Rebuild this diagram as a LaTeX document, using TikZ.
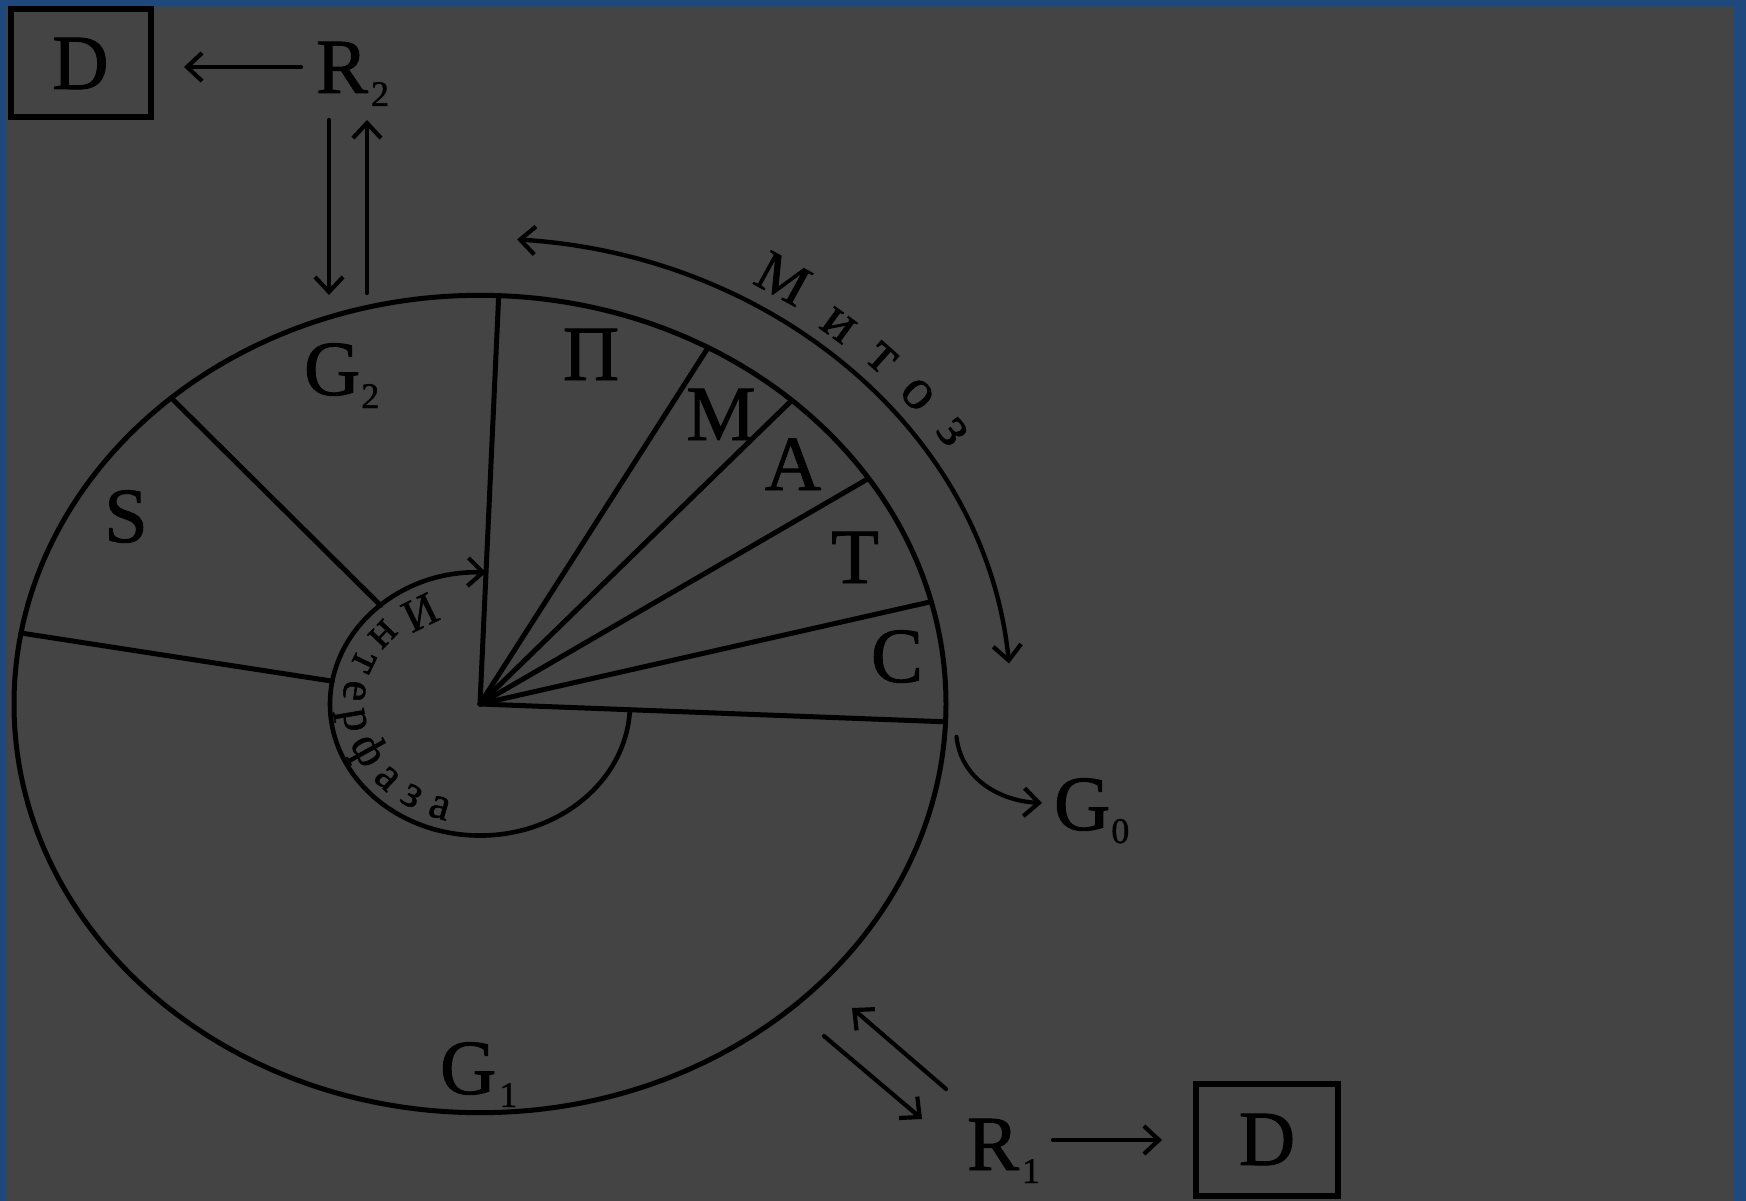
\documentclass[tikz,border=0pt]{standalone}
\usepackage{fontspec}
\setmainfont{Liberation Serif}
\newfontfamily\heavy{Liberation Serif}[FakeBold=1.2]
\usetikzlibrary{arrows.meta,calc}
\definecolor{bgblue}{RGB}{31,73,125}
\definecolor{bggray}{RGB}{68,68,68}
\newcommand{\subdig}[1]{\raisebox{-13pt}{\fontsize{36}{36}\selectfont #1}}
\begin{document}
\begin{tikzpicture}[x=1pt,y=1pt,line width=5pt,line cap=round,
  tip/.tip={Straight Barb[length=15pt,width=28pt,line width=4.2pt]},
  arr/.style={-tip,line width=4.2pt},
  darr/.style={tip-tip,line width=4.4pt},
  big/.style={font=\heavy\fontsize{78}{78}\selectfont,inner sep=0pt,outer sep=0pt},
  ifont/.style={font=\heavy\fontsize{46}{46}\selectfont,inner sep=0pt,outer sep=0pt,anchor=base},
  mfont/.style={font=\heavy\fontsize{58}{58}\selectfont,inner sep=0pt,outer sep=0pt,anchor=center},
  boxd/.style={draw,line width=6pt,big,inner sep=0pt}]
\fill[bgblue] (0,0) rectangle (1746,-1201);
\fill[bggray] (7,-7) rectangle (1734,-1201);
\useasboundingbox (0,0) rectangle (1746,-1201);

% boxes and labels
\node[boxd,minimum width=140,minimum height=108] (Dt) at (80.5,-63.5) {D};
\node[boxd,minimum width=142,minimum height=112] (Db) at (1267,-1139.5) {D};
\node[big,anchor=base west] (R2) at (316,-93) {R\kern3pt\subdig{2}};
\node[big,anchor=base west] (R1) at (967,-1170) {R\kern3pt\subdig{1}};
\node[big,anchor=base west] (G2) at (304,-395) {G\kern1pt\subdig{2}};
\node[big,anchor=base west] (G1) at (440,-1094) {G\kern3pt\subdig{1}};
\node[big,anchor=base west] (G0) at (1054,-830) {G\kern1pt\subdig{0}};
\node[big,anchor=base] (S) at (126,-542) {S};
\node[big,anchor=base] (P) at (591,-380) {П};
\node[big,anchor=base] (M) at (721,-440) {М};
\node[big,anchor=base] (A) at (793,-490) {А};
\node[big,anchor=base] (T) at (855,-583) {Т};
\node[big,anchor=base] (C) at (897,-682) {С};

% the cell
\begin{scope}[shift={(480,-704)},yscale=0.877]
  \coordinate (O) at (0,0);
  \draw (O) circle[radius=466];
  \foreach \a [count=\i] in {87.7,60.7,48,33.5,14.5,-2.5}
    \draw (O) -- (\a:466) coordinate (sp\i);
  \draw (131.5:150) coordinate (sgin) -- (131.5:466) coordinate (sgout);
  \draw (170:150) coordinate (sg1in) -- (170:466) coordinate (sg1out);
  \draw[arr,line width=4.6pt] (-2.5:150) coordinate (intS) arc[start angle=-2.5,end angle=-272.3,radius=150] coordinate (intE);
  \draw[darr] (86:531) coordinate (mitS) arc[start angle=86,end angle=5,radius=531] coordinate (mitE);
  \foreach \ch/\a [count=\i] in {И/119,н/140,т/157,е/173,р/188.5,ф/206,а/223,з/237.5,а/251.5}
    \node[ifont,rotate={atan2(0.877*cos(\a),-sin(\a))}] (int\i) at (\a:137) {\ch};
  \foreach \ch/\a/\r [count=\i] in {М/58/572,и/50.3/561,т/44.5/563,о/38.9/562,з/33.3/565}
    \node[mfont,rotate={atan2(-0.877*cos(\a),sin(\a))}] (mit\i) at (\a:\r) {\ch};
  \coordinate (g0s) at (-4.5:478);
\end{scope}

% connectors
\coordinate (r2l) at (301,-67);
\coordinate (dtr) at (184,-67);
\draw[arr] (r2l) -- (dtr);
\coordinate (r2d1) at (329,-120);
\coordinate (g2d) at (329,-295);
\draw[arr] (r2d1) -- (g2d);
\coordinate (g2u) at (367,-293);
\coordinate (r2u) at (367,-120);
\draw[arr] (g2u) -- (r2u);
\coordinate (g0e) at (1042,-803);
\draw[arr] (g0s) .. controls (961,-779) and (1000,-801) .. (g0e);
\coordinate (r1a) at (946,-1089);
\coordinate (g1a) at (852,-1008);
\draw[arr] (r1a) -- (g1a);
\coordinate (g1b) at (824,-1036);
\coordinate (r1b) at (922,-1119);
\draw[arr] (g1b) -- (r1b);
\coordinate (r1r) at (1053,-1140);
\coordinate (dbl) at (1162,-1140);
\draw[arr] (r1r) -- (dbl);
\end{tikzpicture}
\end{document}
